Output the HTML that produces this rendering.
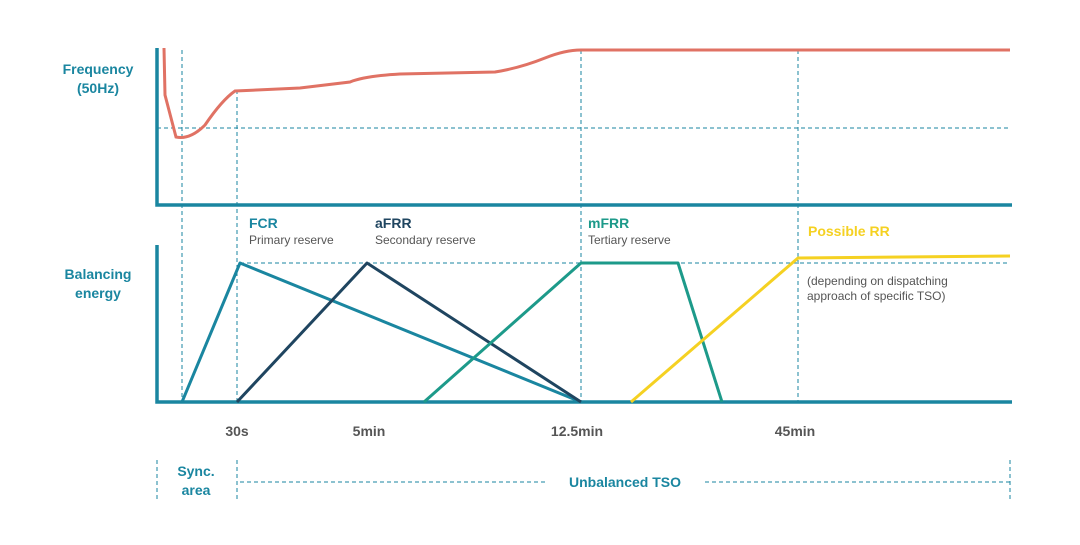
<!DOCTYPE html>
<html><head><style>
body{margin:0;background:#fff;width:1080px;height:540px;overflow:hidden}
svg text{font-family:"Liberation Sans",sans-serif}
</style></head><body>
<svg width="1080" height="540" viewBox="0 0 1080 540">
<g stroke="#1a86a0" stroke-width="1" stroke-dasharray="4,3" fill="none">
<line x1="182" y1="50" x2="182" y2="402"/>
<line x1="237" y1="90" x2="237" y2="402"/>
<line x1="581" y1="50" x2="581" y2="402"/>
<line x1="798" y1="50" x2="798" y2="402"/>
<line x1="157" y1="128" x2="1010" y2="128"/>
<line x1="240" y1="263" x2="1010" y2="263"/>
<line x1="157" y1="460" x2="157" y2="500"/>
<line x1="237" y1="460" x2="237" y2="500"/>
<line x1="1010" y1="460" x2="1010" y2="500"/>
<line x1="240" y1="482" x2="545" y2="482"/>
<line x1="705" y1="482" x2="1010" y2="482"/>
</g>
<g stroke="#1a86a0" stroke-width="3.5" fill="none">
<polyline points="157,48 157,205 1012,205"/>
<polyline points="157,245 157,402 1012,402"/>
</g>
<path d="M164,48 L165,95 L176,137 Q190,140 205,125 Q222,100 235,91 L300,88 L350,82 Q365,76 400,74 L495,72 Q520,68 545,58 Q565,50 581,50 L1010,50" stroke="#e07264" stroke-width="3" fill="none"/>
<g fill="none" stroke-width="3" stroke-linejoin="round">
<polyline points="182,402 240,263 581,402" stroke="#1a86a0"/>
<polyline points="237,402 367,263 581,402" stroke="#1f4560"/>
<polyline points="424,402 581,263 678,263 722,402" stroke="#1d9a8a"/>
<polyline points="631,402 798,258 1010,256" stroke="#f5d122"/>
</g>
<g font-size="14" font-weight="bold" fill="#1a86a0" text-anchor="middle">
<text x="98" y="74">Frequency</text><text x="98" y="93">(50Hz)</text>
<text x="98" y="279">Balancing</text><text x="98" y="298">energy</text>
<text x="196" y="476">Sync.</text><text x="196" y="495">area</text>
<text x="625" y="487">Unbalanced TSO</text>
</g>
<g font-size="14" font-weight="bold" fill="#555" text-anchor="middle">
<text x="237" y="436">30s</text><text x="369" y="436">5min</text>
<text x="577" y="436">12.5min</text><text x="795" y="436">45min</text>
</g>
<g font-size="14" font-weight="bold">
<text x="249" y="228" fill="#1a86a0">FCR</text>
<text x="375" y="228" fill="#1f4560">aFRR</text>
<text x="588" y="228" fill="#1d9a8a">mFRR</text>
<text x="808" y="236" fill="#f5d122">Possible RR</text>
</g>
<g font-size="12" fill="#555">
<text x="249" y="244">Primary reserve</text>
<text x="375" y="244">Secondary reserve</text>
<text x="588" y="244">Tertiary reserve</text>
<text x="807" y="285">(depending on dispatching</text>
<text x="807" y="300">approach of specific TSO)</text>
</g>
</svg>
</body></html>
